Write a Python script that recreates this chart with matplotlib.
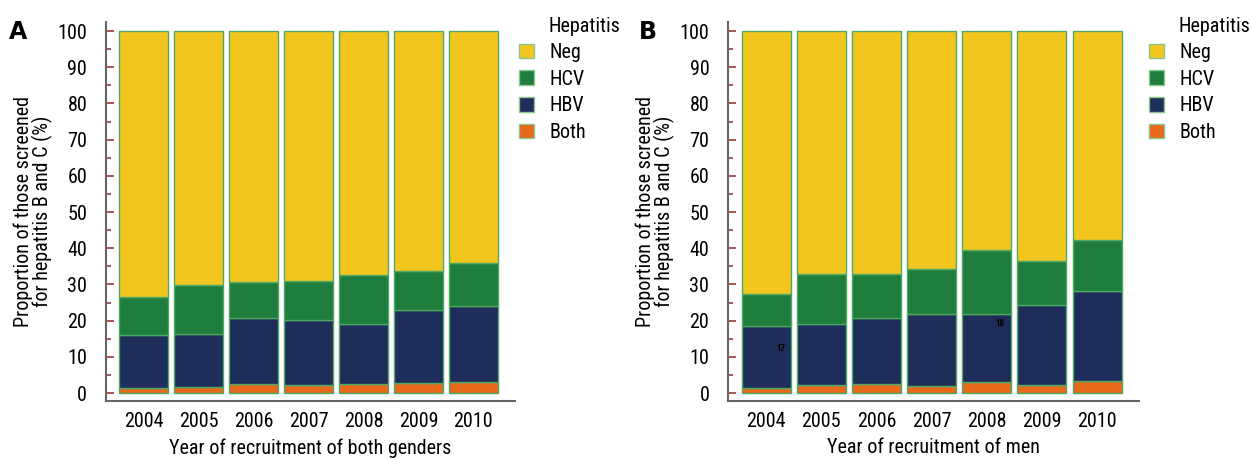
import matplotlib
matplotlib.use("Agg")
import matplotlib.pyplot as plt
from matplotlib import font_manager as fm
from matplotlib.patches import Patch
from matplotlib.ticker import MultipleLocator
import numpy as np

# pick a narrow sans close to the Tahoma look of the original
names = {f.name for f in fm.fontManager.ttflist}
font, fsize = 'DejaVu Sans', 11.5
for cand, sz in [('DejaVu Sans Condensed', 13), ('Roboto Condensed', 14.5), ('Liberation Sans Narrow', 14)]:
    if cand in names:
        font, fsize = cand, sz
        break
plt.rcParams['font.family'] = [font, 'DejaVu Sans']

years = ['2004', '2005', '2006', '2007', '2008', '2009', '2010']
categories = ['Both', 'HBV', 'HCV', 'Neg']

# cumulative tops (percent)
both_all = [1.5, 1.75, 2.4, 2.1, 2.4, 2.9, 3.0]
hbv_top_all = [15.9, 16.4, 20.6, 20.3, 19.2, 22.9, 24.0]
hcv_top_all = [26.6, 29.9, 30.8, 31.0, 32.6, 33.7, 36.0]

both_men = [1.5, 2.1, 2.4, 1.9, 3.0, 2.1, 3.2]
hbv_top_men = [18.5, 19.2, 20.8, 21.9, 21.9, 24.2, 28.3]
hcv_top_men = [27.3, 33.0, 32.8, 34.3, 39.4, 36.5, 42.3]

colors = {'Neg': '#F2C61F', 'HCV': '#1E7D3C', 'HBV': '#1F2D5A', 'Both': '#E8691C'}
edge = '#4fa864'
tick_red = '#9b3a3a'

fig = plt.figure(figsize=(12.51, 4.58), dpi=100)
axA = fig.add_axes([0.0847, 0.1245, 0.327, 0.8275])
axB = fig.add_axes([0.582, 0.1245, 0.3285, 0.8275])


def draw(ax, both, hbv_top, hcv_top, xlabel):
    x = np.arange(len(years))
    both = np.array(both)
    hbv = np.array(hbv_top) - both
    hcv = np.array(hcv_top) - np.array(hbv_top)
    neg = 100 - np.array(hcv_top)
    bottom = np.zeros(len(years))
    for name, vals in [('Both', both), ('HBV', hbv), ('HCV', hcv), ('Neg', neg)]:
        ax.bar(x, vals, bottom=bottom, width=0.89, color=colors[name],
               edgecolor=edge, linewidth=1)
        bottom = bottom + vals
    ax.set_xlim(-0.69, 6.76)
    ax.set_ylim(-2.2, 102.5)
    ax.set_xticks(x)
    ax.set_xticklabels(years)
    ax.yaxis.set_major_locator(MultipleLocator(10))
    ax.yaxis.set_minor_locator(MultipleLocator(5))
    ax.tick_params(axis='y', which='major', direction='in', length=6, width=1.2,
                   color=tick_red, labelsize=fsize, pad=13.5)
    ax.tick_params(axis='y', which='minor', direction='in', length=3.5, width=1.2,
                   color=tick_red)
    ax.tick_params(axis='x', length=0, labelsize=fsize, pad=8)
    for s in ['top', 'right']:
        ax.spines[s].set_visible(False)
    for s in ['left', 'bottom']:
        ax.spines[s].set_color('#666666')
        ax.spines[s].set_linewidth(1.5)
    ax.set_xlabel(xlabel, fontsize=fsize, labelpad=5)
    ax.set_ylabel('Proportion of those screened\nfor hepatitis B and C (%)',
                  fontsize=fsize, labelpad=3, linespacing=0.95)


draw(axA, both_all, hbv_top_all, hcv_top_all, 'Year of recruitment of both genders')
draw(axB, both_men, hbv_top_men, hcv_top_men, 'Year of recruitment of men')

# stray labels inside the men panel
axB.text(0.26, 12.2, '17', fontsize=6.5, fontweight='bold', ha='center', va='center')
axB.text(4.24, 19.1, '18', fontsize=6.5, fontweight='bold', ha='center', va='center')

# panel letters
fig.text(9 / 1251, 1 - 39 / 458, 'A', fontsize=17, fontweight='bold', family='DejaVu Sans')
fig.text(639 / 1251, 1 - 39 / 458, 'B', fontsize=17, fontweight='bold', family='DejaVu Sans')

legend_order = ['Neg', 'HCV', 'HBV', 'Both']
handles = [Patch(facecolor=colors[n], edgecolor='#8cc68c', linewidth=1) for n in legend_order]
for lx, tx in [(519, 549), (1149, 1178)]:
    fig.text(tx / 1251, 1 - 27 / 458, 'Hepatitis', fontsize=fsize, va='center', ha='left')
    fig.legend(handles, legend_order, loc='upper left',
               bbox_to_anchor=(lx / 1251, 1 - 43 / 458), frameon=False,
               fontsize=fsize, borderpad=0, borderaxespad=0,
               handlelength=0.75, handleheight=0.75, handletextpad=0.75,
               labelspacing=0.38)

fig.savefig('out.png', dpi=100)
